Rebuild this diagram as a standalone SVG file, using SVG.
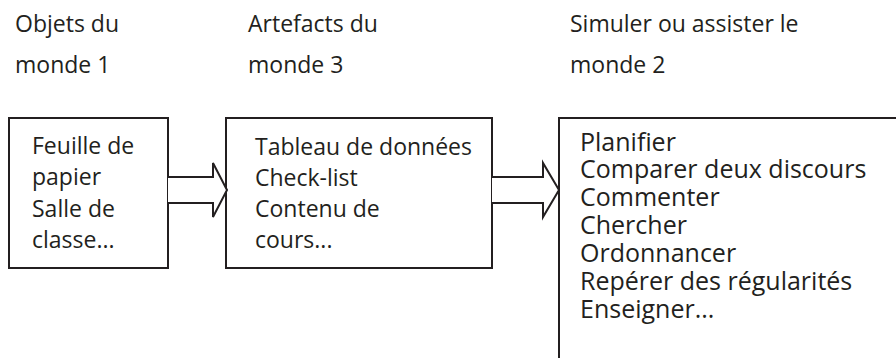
<svg xmlns="http://www.w3.org/2000/svg" width="896" height="358" viewBox="0 0 896 358">
<style>
text{font-family:"Open Sans","Noto Sans","Liberation Sans",sans-serif;fill:#231f20}
.h{font-size:23px}
.b{font-size:23px}
.c{font-size:25px}
.box{fill:#fff;stroke:#231f20;stroke-width:2}
.arr{fill:#fff;stroke:#231f20;stroke-width:2;stroke-linejoin:miter}
</style>
<rect width="896" height="358" fill="#fff"/>
<g id="headers">
<text class="h" x="15" y="32">Objets du</text>
<text class="h" x="15" y="73">monde 1</text>
<text class="h" x="248" y="32">Artefacts du</text>
<text class="h" x="248" y="73">monde 3</text>
<text class="h" x="570" y="32">Simuler ou assister le</text>
<text class="h" x="570" y="73">monde 2</text>
</g>
<g id="node1">
<rect class="box" x="9" y="118" width="159" height="150"/>
<text class="b" x="32" y="154">Feuille de</text>
<text class="b" x="32" y="185">papier</text>
<text class="b" x="32" y="217">Salle de</text>
<text class="b" x="32" y="248">classe...</text>
</g>
<g id="node2">
<rect class="box" x="226" y="118" width="266" height="150"/>
<text class="b" x="255" y="155">Tableau de données</text>
<text class="b" x="255" y="186">Check-list</text>
<text class="b" x="255" y="217">Contenu de</text>
<text class="b" x="255" y="248">cours...</text>
</g>
<g id="node3">
<rect class="box" x="559" y="118" width="350" height="260"/>
<text class="c" x="580" y="151">Planifier</text>
<text class="c" x="580" y="178">Comparer deux discours</text>
<text class="c" x="580" y="206">Commenter</text>
<text class="c" x="580" y="234">Chercher</text>
<text class="c" x="580" y="262">Ordonnancer</text>
<text class="c" x="580" y="290">Repérer des régularités</text>
<text class="c" x="580" y="318">Enseigner...</text>
</g>
<g id="connectors">
<path class="arr" d="M168 177 H213 V163 L227 190 L213 217 V203 H168"/>
<path class="arr" d="M492 177 H543 V163 L559 190 L543 217 V203 H492"/>
</g>
</svg>
